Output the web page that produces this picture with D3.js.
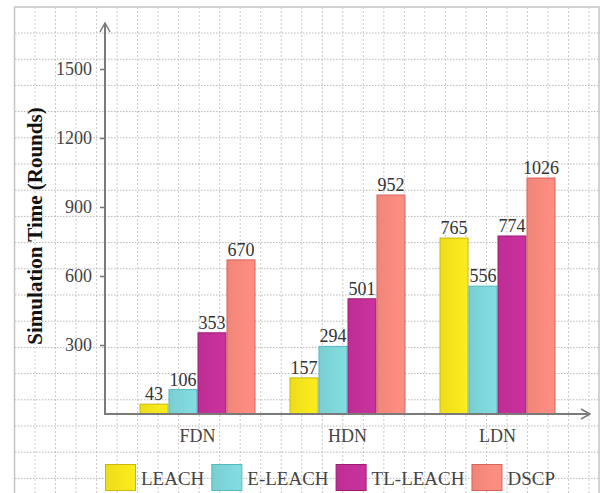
<!DOCTYPE html>
<html>
<head>
<meta charset="utf-8">
<script src="https://cdn.jsdelivr.net/npm/d3@7"></script>
<style>
  html, body { margin: 0; padding: 0; background: #fff; }
  svg { display: block; }
  text { font-family: "Liberation Serif", "Times New Roman", serif; }
</style>
</head>
<body>
<svg id="chart" width="603" height="493"></svg>
<script>
// Network-lifetime milestones (rounds) per protocol
const categories = ["FDN", "HDN", "LDN"];
const series = ["LEACH", "E-LEACH", "TL-LEACH", "DSCP"];
const leach   = [43, 157, 765];
const eLeach  = [106, 294, 556];
const tlLeach = [353, 501, 774];
const dscp    = [670, 952, 1026];
const yTicks  = [300, 600, 900, 1200, 1500];

const values = [leach, eLeach, tlLeach, dscp];
const fills   = ["#f6e61c", "#7fd7db", "#c5309a", "#f98b7e"];
const strokes = ["#c9b812", "#55b8bd", "#9c1e74", "#d8625a"];

const svg = d3.select("#chart");
const W = 603, H = 493;
const serif = "'Liberation Serif', 'Times New Roman', serif";

// graph-paper background
const grid = svg.append("g");
d3.range(35, 600, 20.52).forEach(gx => {
  grid.append("line").attr("x1", gx).attr("x2", gx).attr("y1", 7).attr("y2", H)
    .attr("stroke", "#cccccc").attr("stroke-width", 1).attr("stroke-dasharray", "2,2");
});
d3.range(33, H, 26.2).forEach(gy => {
  grid.append("line").attr("x1", 15).attr("x2", 599).attr("y1", gy).attr("y2", gy)
    .attr("stroke", "#b8b8b8").attr("stroke-width", 1).attr("stroke-dasharray", "1.5,1.5");
});
svg.append("rect").attr("x", 14.5).attr("y", 7).attr("width", 584.5).attr("height", H)
  .attr("fill", "none").attr("stroke", "#c4c4c4").attr("stroke-width", 1.5);

// scales
const y0 = 414;
const y = d3.scaleLinear().domain([0, 1500]).range([y0, 69]);
const x = d3.scaleBand().domain(categories).range([122.5, 572.5])
  .paddingInner(0.2267).paddingOuter(0.1133);
const xs = d3.scaleBand().domain(series).range([0, x.bandwidth()]);

// bar shading
const defs = svg.append("defs");
fills.forEach((c, i) => {
  const g = defs.append("linearGradient").attr("id", "grad" + i)
    .attr("x1", "0%").attr("x2", "100%").attr("y1", "0%").attr("y2", "0%");
  g.append("stop").attr("offset", "0%").attr("stop-color", d3.color(c).darker(0.12));
  g.append("stop").attr("offset", "55%").attr("stop-color", c);
  g.append("stop").attr("offset", "100%").attr("stop-color", d3.color(c).brighter(0.08));
});

// bars
const groups = svg.append("g").selectAll("g").data(categories).join("g")
  .attr("transform", d => `translate(${x(d)},0)`);
groups.each(function(cat, ci) {
  const g = d3.select(this);
  series.forEach((s, si) => {
    const v = values[si][ci];
    g.append("rect")
      .attr("x", xs(s) + 0.5).attr("width", xs.bandwidth() - 1)
      .attr("y", y(v)).attr("height", y0 - y(v))
      .attr("fill", `url(#grad${si})`)
      .attr("stroke", strokes[si]).attr("stroke-width", 1);
    g.append("text")
      .attr("x", xs(s) + xs.bandwidth() / 2).attr("y", y(v) - 4)
      .attr("text-anchor", "middle").attr("font-size", 18).attr("fill", "#333")
      .attr("font-family", serif)
      .text(v);
  });
});

// y axis
const yAxis = svg.append("g").attr("transform", "translate(105,0)")
  .call(d3.axisLeft(y).tickValues(yTicks).tickFormat(d3.format("d")).tickSize(5).tickPadding(8));
yAxis.attr("font-family", serif);
yAxis.select(".domain").remove();
yAxis.selectAll(".tick line").attr("stroke", "#777").attr("stroke-width", 1.5);
yAxis.selectAll(".tick text").attr("font-size", 18).attr("fill", "#444")
  .attr("font-family", serif);

// x axis
const xAxis = svg.append("g").attr("transform", `translate(0,${y0})`)
  .call(d3.axisBottom(x).tickSize(0).tickPadding(15));
xAxis.attr("font-family", serif);
xAxis.select(".domain").remove();
xAxis.selectAll(".tick text").attr("font-size", 18).attr("fill", "#444")
  .attr("font-family", serif);

// axis lines with arrowheads
const axisColor = "#7a7a7a";
svg.append("line").attr("x1", 105).attr("x2", 105).attr("y1", y0 + 1).attr("y2", 23)
  .attr("stroke", axisColor).attr("stroke-width", 2);
svg.append("path").attr("d", "M100,32 L105,23 L110,32").attr("fill", "none")
  .attr("stroke", axisColor).attr("stroke-width", 1.5);
svg.append("line").attr("x1", 104).attr("x2", 590).attr("y1", y0).attr("y2", y0)
  .attr("stroke", axisColor).attr("stroke-width", 2);
svg.append("path").attr("d", `M581,${y0 - 5} L590,${y0} L581,${y0 + 5}`).attr("fill", "none")
  .attr("stroke", axisColor).attr("stroke-width", 1.5);

// y axis title
svg.append("text")
  .attr("transform", "translate(42,226) rotate(-90)")
  .attr("text-anchor", "middle").attr("font-size", 21).attr("font-weight", "bold")
  .attr("fill", "#111").attr("font-family", serif)
  .text("Simulation Time (Rounds)");

// legend
const legend = svg.append("g").attr("transform", "translate(105,464)");
let lx = 0;
series.forEach((s, i) => {
  const item = legend.append("g").attr("transform", `translate(${lx},0)`);
  item.append("rect").attr("x", 0.5).attr("y", 0.5).attr("width", 30).attr("height", 26)
    .attr("fill", `url(#grad${i})`).attr("stroke", strokes[i]).attr("stroke-width", 1);
  const t = item.append("text").attr("x", 36).attr("y", 21)
    .attr("font-size", 19).attr("fill", "#444").attr("font-family", serif).text(s);
  lx += 36 + t.node().getComputedTextLength() + 7;
});
</script>
</body>
</html>
